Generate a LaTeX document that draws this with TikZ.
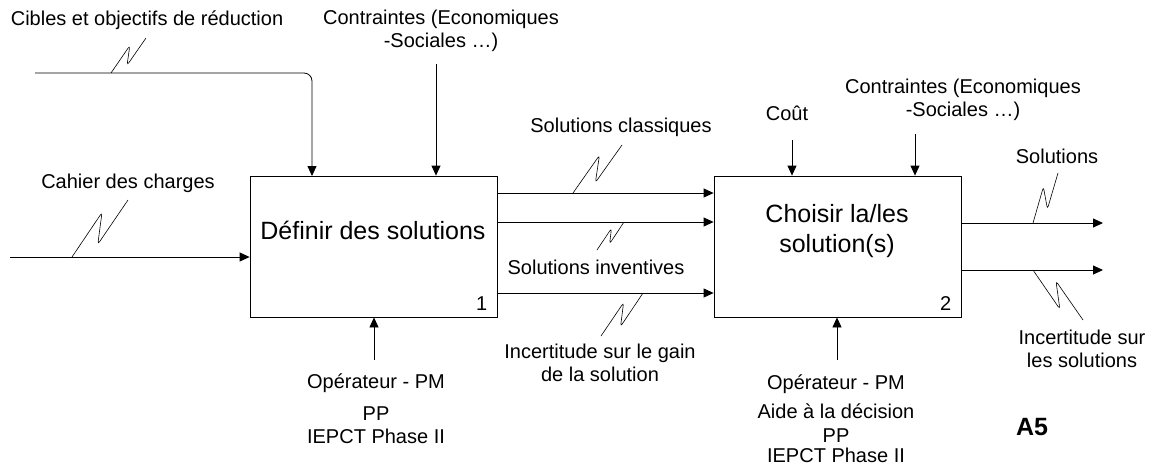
\documentclass[tikz,border=0pt]{standalone}
\usepackage{fontspec}
\setmainfont{Liberation Sans}
\usetikzlibrary{arrows.meta,calc}

\tikzset{
  txt/.style={font=\fontsize{20}{23}\selectfont, inner sep=0pt, align=center},
  ttl/.style={font=\fontsize{25}{30}\selectfont, inner sep=0pt, align=center},
  box/.style={draw, line width=0.8pt, minimum width=247pt, minimum height=141pt, inner sep=0pt},
  arr/.style={line width=0.8pt, -{Triangle[length=10pt,width=9pt]}},
  zz/.style={line width=0.6pt, rounded corners=3pt},
  squig/.style={to path={-- ($(\tikztostart)!0.66!(\tikztotarget)!0.36!90:(\tikztotarget)$) -- ($(\tikztostart)!0.34!(\tikztotarget)!0.18!270:(\tikztotarget)$) -- (\tikztotarget)}},
  squigm/.style={to path={-- ($(\tikztostart)!0.66!(\tikztotarget)!0.36!270:(\tikztotarget)$) -- ($(\tikztostart)!0.34!(\tikztotarget)!0.18!90:(\tikztotarget)$) -- (\tikztotarget)}}
}

\begin{document}
\begin{tikzpicture}[x=1pt, y=-1pt]
        \useasboundingbox (0,0) rectangle (1154,472);

        % Define the two activity boxes
        \node[box] (B1) at (373.5,246.5) {};
        \node[box] (B2) at (837.5,246.5) {};
        \node[ttl] (T1) at (373,230) {Définir des solutions};
        \node[ttl] (T2) at (837,231) {Choisir la/les\\solution(s)};
        \node[txt, anchor=south east] (N1) at ($(B1.south east)+(-10,-7)$) {1};
        \node[txt, anchor=south east] (N2) at ($(B2.south east)+(-10,-7)$) {2};

        % Define labels
        \node[txt] (Lcib) at (147,20) {Cibles et objectifs de réduction};
        \node[txt] (Lcdc) at (128,183) {Cahier des charges};
        \node[txt] (Lcon1) at (441,31) {Contraintes (Economiques\\-Sociales \dots)};
        \node[txt] (Lsc) at (621,127) {Solutions classiques};
        \node[txt] (Lsi) at (596,267) {Solutions inventives};
        \node[txt] (Linc) at (600,363) {Incertitude sur le gain\\de la solution};
        \node[txt] (Lop1) at (376,409) {Opérateur - PM\\[9pt]PP\\IEPCT Phase II};
        \node[txt] (Lcout) at (787,113) {Coût};
        \node[txt] (Lcon2) at (963,100) {Contraintes (Economiques\\-Sociales \dots)};
        \node[txt] (Lsol) at (1057,156) {Solutions};
        \node[txt] (Lincs) at (1082,349) {Incertitude sur\\les solutions};
        \node[txt] (Lop2) at (836,419) {Opérateur - PM\\[6pt]Aide à la décision\\[1pt]PP\\[-3pt]IEPCT Phase II};
        \node[txt, font=\fontsize{25}{30}\selectfont\bfseries] (LA5) at (1032,427) {A5};

        % Define free ends of the arrows
        \coordinate (cdc) at (10,257);
        \coordinate (cib) at (35,73);
        \coordinate (cibE) at (312,176);
        \coordinate (con1) at (436,64);
        \coordinate (op1) at (374,360);
        \coordinate (cout) at (792,140);
        \coordinate (con2) at (915,134);
        \coordinate (op2) at (837,360);
        \coordinate (sol) at (1103,223);
        \coordinate (incs) at (1103,270);

        % Define edges
        \draw[arr] (cdc) -- (cdc -| B1.west);
        \draw[arr, rounded corners=8pt] (cib) -| (cibE);
        \draw[arr] (con1) -- (con1 |- B1.north);
        \draw[arr] (op1) -- (op1 |- B1.south);
        \draw[arr] (B1.east |- 0,193) -- (B2.west |- 0,193);
        \draw[arr] (B1.east |- 0,222) -- (B2.west |- 0,222);
        \draw[arr] (B1.east |- 0,293) -- (B2.west |- 0,293);
        \draw[arr] (cout) -- (cout |- B2.north);
        \draw[arr] (con2) -- (con2 |- B2.north);
        \draw[arr] (op2) -- (op2 |- B2.south);
        \draw[arr] (B2.east |- sol) -- (sol);
        \draw[arr] (B2.east |- incs) -- (incs);

        % Define squiggles from labels to arrows
        \coordinate (s1a) at (72,257);   \coordinate (s1b) at (128,200);
        \coordinate (s2a) at (111,73);   \coordinate (s2b) at (146,38);
        \coordinate (s3a) at (573,193);  \coordinate (s3b) at (622,145);
        \coordinate (s4a) at (624,222);  \coordinate (s4b) at (597,250);
        \coordinate (s5a) at (643,293);  \coordinate (s5b) at (601,336);
        \coordinate (s6a) at (1033,223); \coordinate (s6b) at (1058,173);
        \coordinate (s7a) at (1033,270); \coordinate (s7b) at (1083,320);

        \draw[zz] (s1a) to[squig] (s1b);
        \draw[zz] (s2a) to[squig] (s2b);
        \draw[zz] (s3a) to[squig] (s3b);
        \draw[zz] (s4a) to[squig] (s4b);
        \draw[zz] (s5a) to[squig] (s5b);
        \draw[zz] (s6a) to[squig] (s6b);
        \draw[zz] (s7a) to[squigm] (s7b);
    \end{tikzpicture}
\end{document}
